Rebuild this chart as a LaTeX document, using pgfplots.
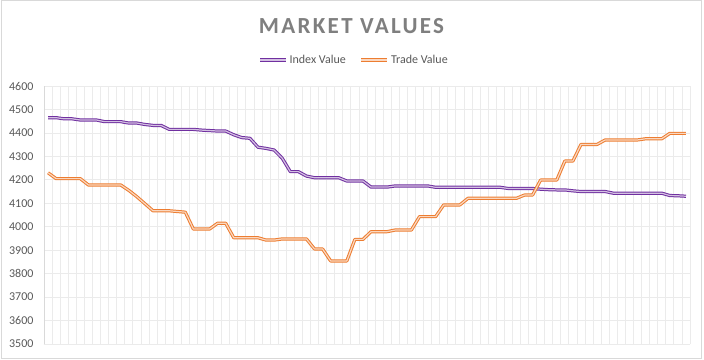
\documentclass[border=0pt]{standalone}
\usepackage{fontspec}
\setmainfont{Carlito}
\newfontfamily\titlefont[LetterSpace=10]{Carlito}
\usepackage{pgfplots}
\usepackage{pgfplotstable}
\pgfplotsset{compat=1.18}
\definecolor{ipurple}{HTML}{7030A0}
\definecolor{torange}{HTML}{ED7D31}
\definecolor{txtgray}{HTML}{595959}
\definecolor{ttlgray}{HTML}{7F7F7F}
\definecolor{gridc}{HTML}{EBEBEB}
\definecolor{framec}{HTML}{D9D9D9}

\pgfplotstableread{
i idx trade
0 4465 4230
1 4465 4205
2 4460 4205
3 4460 4205
4 4455 4205
5 4455 4178
6 4455 4178
7 4448 4178
8 4448 4178
9 4448 4178
10 4442 4155
11 4442 4128
12 4436 4098
13 4432 4068
14 4432 4068
15 4415 4068
16 4415 4065
17 4415 4062
18 4415 3990
19 4412 3990
20 4410 3990
21 4408 4015
22 4408 4015
23 4392 3953
24 4380 3953
25 4377 3953
26 4339 3953
27 4334 3943
28 4327 3943
29 4292 3948
30 4235 3948
31 4235 3948
32 4216 3948
33 4209 3905
34 4209 3905
35 4209 3854
36 4209 3854
37 4195 3854
38 4195 3946
39 4195 3946
40 4169 3979
41 4169 3979
42 4169 3979
43 4174 3986
44 4174 3986
45 4174 3986
46 4174 4043
47 4174 4043
48 4168 4043
49 4168 4093
50 4168 4093
51 4168 4093
52 4168 4121
53 4168 4121
54 4168 4121
55 4168 4121
56 4168 4121
57 4163 4121
58 4163 4121
59 4163 4135
60 4163 4135
61 4160 4199
62 4158 4199
63 4157 4199
64 4157 4280
65 4153 4280
66 4150 4351
67 4150 4351
68 4150 4351
69 4150 4370
70 4143 4370
71 4143 4370
72 4143 4370
73 4143 4370
74 4143 4375
75 4143 4375
76 4143 4375
77 4133 4398
78 4132 4398
79 4130 4398
}\data

\begin{document}
\begin{tikzpicture}[x=1pt,y=1pt]
\path[use as bounding box, fill=white] (0,0) rectangle (704,359);
\draw[framec, line width=1pt] (1,1) rectangle (701,358);
\begin{axis}[
  at={(44pt,15pt)}, anchor=south west,
  scale only axis, width=646pt, height=258pt,
  xmin=-0.5, xmax=79.5, ymin=3500, ymax=4600,
  xtick={-0.5,0.5,...,79.5}, xticklabels={},
  ytick={3500,3600,...,4600},
  major tick length=0pt,
  grid=major, grid style={gridc, line width=0.8pt},
  axis lines*=left,
  x axis line style={draw=gridc, line width=0.8pt},
  y axis line style={draw=framec, line width=0.8pt},
  yticklabel style={font=\fontsize{12}{12}\selectfont, text=txtgray, xshift=-7pt},
  /pgf/number format/1000 sep={},
  /pgf/number format/assume math mode=true,
  legend style={at={(0.48,1.1008)}, anchor=center, draw=none, fill=none,
    font=\fontsize{12}{12}\selectfont, text=txtgray,
    nodes={inner sep=2pt},
    /tikz/every even column/.append style={column sep=12pt}},
  legend columns=2,
  legend image code/.code={\draw[#1] (0pt,0pt) -- (26pt,0pt);},
]
\addplot[no marks, ipurple, line width=1pt, double=ipurple!30, double distance=1.2pt, line join=round] table[x=i,y=idx]{\data};
\addplot[no marks, torange, line width=1pt, double=torange!30, double distance=1.2pt, line join=round] table[x=i,y=trade]{\data};
\legend{Index Value, Trade Value}
\end{axis}
\node[ttlgray, font=\titlefont\bfseries\fontsize{23}{23}\selectfont] at (351.5,333.2) {MARKET VALUES};
\end{tikzpicture}
\end{document}
